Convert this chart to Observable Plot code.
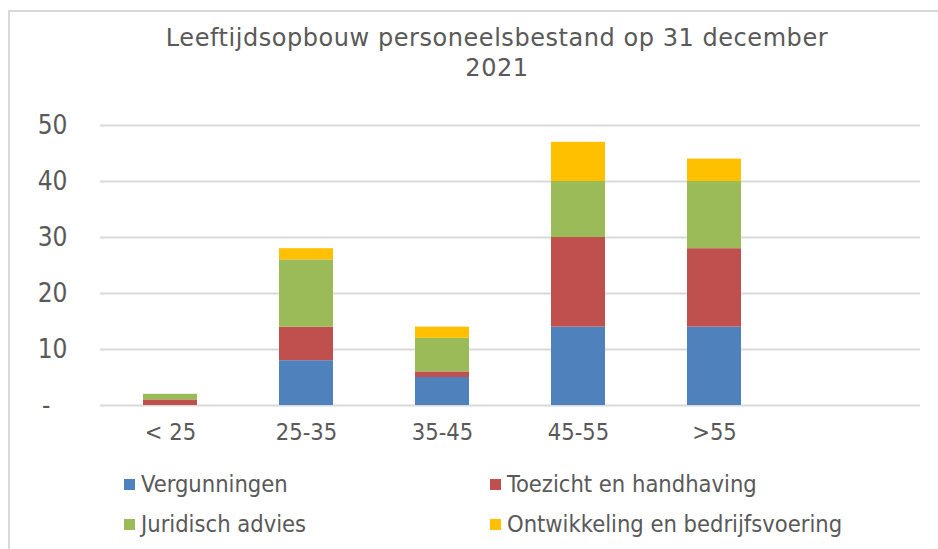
<!DOCTYPE html>
<html>
<head>
<meta charset="utf-8">
<script src="https://cdn.jsdelivr.net/npm/d3@7"></script>
<script src="https://cdn.jsdelivr.net/npm/@observablehq/plot@0.6"></script>
<style>
  html, body { margin: 0; padding: 0; background: #fff; }
  body { width: 938px; height: 549px; overflow: hidden; position: relative;
         font-family: "DejaVu Sans Condensed", "DejaVu Sans", sans-serif; color: #595959; }
  #frame { position: absolute; left: 8px; top: 10px; width: 1000px; height: 600px;
           border-left: 2px solid #d9d9d9; border-top: 2px solid #d9d9d9; }
  #title { position: absolute; left: 0; width: 994px; top: 23px; text-align: center;
           font-family: "DejaVu Sans", sans-serif; font-size: 24px; letter-spacing: 0.55px; line-height: 30px; }
  #chart { position: absolute; left: 0; top: 0; }
  .leg { position: absolute; font-size: 23.5px; line-height: 28px; white-space: nowrap; }
  .sw { position: absolute; width: 11px; height: 11px; }
</style>
</head>
<body>
<div id="frame"></div>
<div id="chart"></div>
<div id="title">Leeftijdsopbouw personeelsbestand op 31 december<br>2021</div>
<div id="legend"></div>
<script>
const ageGroups = ["< 25", "25-35", "35-45", "45-55", ">55"];
const seriesNames = ["Vergunningen", "Toezicht en handhaving", "Juridisch advies", "Ontwikkeling en bedrijfsvoering"];
const vergunningen = [0, 8, 5, 14, 14];
const toezicht = [1, 6, 1, 16, 14];
const juridisch = [1, 12, 6, 10, 12];
const ontwikkeling = [0, 2, 2, 7, 4];
const seriesColors = ["#4F81BD", "#C0504D", "#9BBB59", "#FFC000"];
const yTicks = [0, 10, 20, 30, 40, 50];

const seriesValues = [vergunningen, toezicht, juridisch, ontwikkeling];
const data = [];
seriesNames.forEach((s, si) => {
  ageGroups.forEach((g, gi) => {
    data.push({group: g, series: s, value: seriesValues[si][gi]});
  });
});

const chart = Plot.plot({
  width: 938,
  height: 450,
  marginTop: 125,
  marginBottom: 45,
  marginLeft: 100,
  marginRight: 18,
  style: {fontFamily: '"DejaVu Sans Condensed", "DejaVu Sans", sans-serif', color: "#595959", background: "transparent"},
  x: {domain: [...ageGroups, ""], paddingInner: 0.6, paddingOuter: 0.3, axis: null},
  y: {domain: [0, 50], axis: null},
  color: {domain: seriesNames, range: seriesColors},
  marks: [
    Plot.ruleY(yTicks, {stroke: "#d9d9d9", strokeWidth: 2}),
    Plot.barY(data, {x: "group", y: "value", fill: "series", order: seriesNames, inset: 0}),
    Plot.axisY(yTicks, {tickSize: 0, tickPadding: 33, fontSize: 26, fill: "#595959", label: null,
      tickFormat: d => d === 0 ? "-\u00a0\u00a0\u200a" : String(d)}),
    Plot.axisX(ageGroups, {tickSize: 0, tickPadding: 18, fontSize: 23.5, fill: "#595959", label: null})
  ]
});
document.getElementById("chart").appendChild(chart);

const legendPos = [[124, 470], [490, 470], [124, 510], [490, 510]];
const legend = document.getElementById("legend");
seriesNames.forEach((s, i) => {
  const [lx, ly] = legendPos[i];
  const sw = document.createElement("div");
  sw.className = "sw";
  sw.style.left = lx + "px";
  sw.style.top = (ly + 9) + "px";
  sw.style.background = seriesColors[i];
  legend.appendChild(sw);
  const t = document.createElement("div");
  t.className = "leg";
  t.style.left = (lx + 17) + "px";
  t.style.top = ly + "px";
  t.textContent = s;
  legend.appendChild(t);
});
</script>
</body>
</html>
